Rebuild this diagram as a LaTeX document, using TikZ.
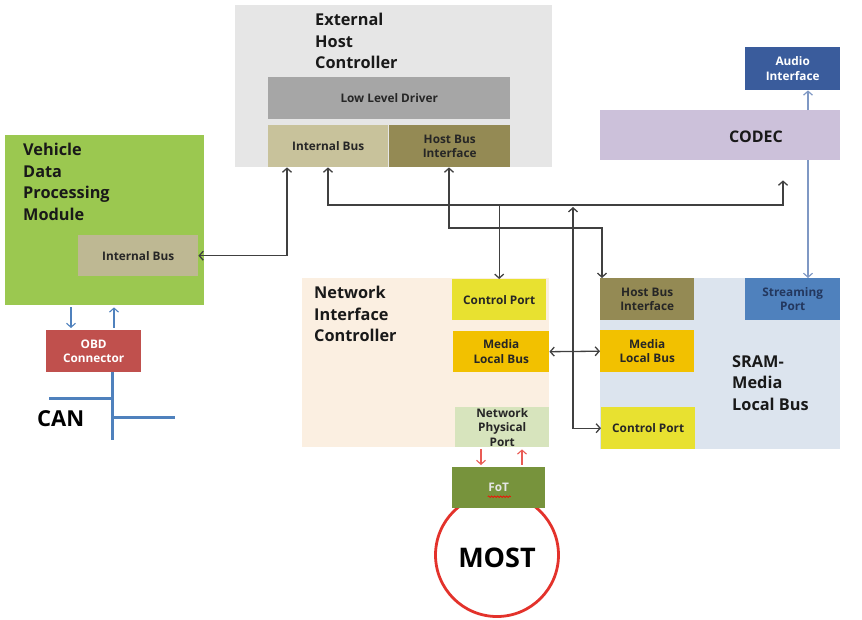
\documentclass[tikz,border=0pt]{standalone}
\usepackage{fontspec}
\setmainfont{Open Sans}
\usetikzlibrary{arrows.meta,decorations.pathmorphing}

\definecolor{hostgray}{HTML}{E6E6E6}
\definecolor{drivergray}{HTML}{A6A6A6}
\definecolor{bustan}{HTML}{C8C29B}
\definecolor{hostolive}{HTML}{948A54}
\definecolor{vehgreen}{HTML}{9BC850}
\definecolor{obdred}{HTML}{C0504D}
\definecolor{audioblue}{HTML}{3A5C9C}
\definecolor{codeclav}{HTML}{CCC1DA}
\definecolor{nicbeige}{HTML}{FBEFE1}
\definecolor{portyellow}{HTML}{E8E130}
\definecolor{mediaorange}{HTML}{F2C100}
\definecolor{phygreen}{HTML}{D7E4BD}
\definecolor{sramblue}{HTML}{DCE4EE}
\definecolor{streamblue}{HTML}{4F81BD}
\definecolor{fotgreen}{HTML}{77933C}
\definecolor{mostred}{HTML}{E3322B}
\definecolor{linkgray}{HTML}{404040}
\definecolor{sigblue}{HTML}{7F98C4}

\tikzset{
	blk/.style={anchor=north west, inner sep=0pt, align=center, text=black!85,
		font=\fontsize{11.8}{14.5}\selectfont\bfseries},
	area/.style={anchor=north west, inner sep=0pt},
	title/.style={anchor=north west, inner sep=0pt, align=left, text=black!90,
		font=\fontsize{16.3}{21.7}\selectfont\bfseries},
	link/.style={draw=linkgray, line width=1.3pt},
	siglink/.style={draw=sigblue, line width=1.2pt},
	obdlink/.style={draw=streamblue, line width=1.1pt, shorten <=2pt, shorten >=2pt},
	fotlink/.style={draw=mostred!80, line width=1.1pt, shorten <=2pt, shorten >=2pt},
	canline/.style={draw=streamblue, line width=3pt}
}

\begin{document}
\begin{tikzpicture}[x=1pt,y=-1pt,>={Straight Barb[length=4pt,width=9pt]}]
	\useasboundingbox (0,0) rectangle (862,619);

	% External host controller
	\node[area,fill=hostgray,minimum width=317pt,minimum height=162pt](ehc) at (235,5) {};
	\node[title](ehctitle) at (315,13) {External\\Host\\Controller};
	\node[blk,fill=drivergray,minimum width=242pt,minimum height=42pt](lld) at (268,77) {Low Level Driver};
	\node[blk,fill=bustan,minimum width=120pt,minimum height=42pt](ibhost) at (268,125) {Internal Bus};
	\node[blk,fill=hostolive,minimum width=121pt,minimum height=42pt](hbihost) at (389,125) {Host Bus\\Interface};

	% Vehicle module and OBD
	\node[area,fill=vehgreen,minimum width=199pt,minimum height=170pt](vdpm) at (5,135) {};
	\node[title](vdpmtitle) at (23,143) {Vehicle\\Data\\Processing\\Module};
	\node[blk,fill=bustan!95!black,minimum width=120pt,minimum height=41pt](ibveh) at (78,235) {Internal Bus};
	\node[blk,fill=obdred,text=white,minimum width=95pt,minimum height=42pt](obd) at (46,330) {OBD\\Connector};
	\node[anchor=north west,inner sep=0pt,font=\fontsize{22}{24}\selectfont\bfseries](can) at (37,410) {CAN};

	% Audio path
	\node[blk,fill=audioblue,text=white,minimum width=95pt,minimum height=43pt](audio) at (745,47) {Audio\\Interface};
	\node[area,fill=codeclav,minimum width=240pt,minimum height=50pt](codec) at (600,110) {};
	\node[font=\fontsize{16}{18}\selectfont\bfseries,text=black!90](codectext) at (756,137) {CODEC};

	% Network interface controller
	\node[area,fill=nicbeige,minimum width=247pt,minimum height=169pt](nic) at (302,278) {};
	\node[title](nictitle) at (314,286) {Network\\Interface\\Controller};
	\node[blk,fill=portyellow,minimum width=94pt,minimum height=41pt](cpnic) at (452,279) {Control Port};
	\node[blk,fill=mediaorange,minimum width=96pt,minimum height=41pt](mlbnic) at (453,331) {Media\\Local Bus};
	\node[blk,fill=phygreen,minimum width=94pt,minimum height=40pt](npp) at (455,407) {Network\\Physical\\Port};

	% SRAM media local bus
	\node[area,fill=sramblue,minimum width=240pt,minimum height=171pt](sram) at (600,278) {};
	\node[title](sramtitle) at (732,355) {SRAM-\\Media\\Local Bus};
	\node[blk,fill=hostolive,minimum width=94pt,minimum height=42pt](hbisram) at (600,278) {Host Bus\\Interface};
	\node[blk,fill=streamblue,text=audioblue!60!black,minimum width=95pt,minimum height=42pt](stream) at (745,278) {Streaming\\Port};
	\node[blk,fill=mediaorange,minimum width=94pt,minimum height=42pt](mlbsram) at (600,330) {Media\\Local Bus};
	\node[blk,fill=portyellow,minimum width=94pt,minimum height=42pt](cpsram) at (601,407) {Control Port};

	% MOST ring
	\draw[mostred,line width=2.8pt] (497,555) circle (61.5);
	\node[blk,fill=fotgreen,text=white!90!black,minimum width=93pt,minimum height=41pt](fot) at (452,467) {FoT};
	\draw[red,line width=0.6pt,decorate,decoration={snake,amplitude=0.8pt,segment length=3pt}]
		([xshift=-11pt,yshift=-9pt]fot.center) -- ([xshift=12pt,yshift=-9pt]fot.center);
	\node[font=\fontsize{27}{30}\selectfont\bfseries](most) at (497,558) {MOST};

	% bus lines
	\coordinate (busa) at (0,205);
	\coordinate (codecx) at (808,0);
	\coordinate (obdin) at (71,0);
	\coordinate (obdout) at (114,0);
	\coordinate (canx) at (112,0);

	\draw[link,<->] (ibveh.east) -| ([xshift=19pt]ibhost.south west);
	\draw[link,<->] ([xshift=60pt]ibhost.south west) |- (783,205) -- ([xshift=183pt,yshift=-20pt]codec.south west);
	\draw[link,->] (cpnic.north |- busa) -- (cpnic.north);
	\draw[link,<->] ([xshift=60pt]hbihost.south west) |- (602,228) -- ([xshift=2pt]hbisram.north west);
	\draw[link,<->] (573,207) |- (cpsram.west);
	\draw[link,<->] (mlbnic.east) -- (mlbsram.west);

	\draw[siglink,->] (codec.north -| codecx) -- (audio.south -| codecx);
	\draw[siglink,->] (codec.south -| codecx) -- (stream.north -| codecx);

	\draw[obdlink,->] (vdpm.south -| obdin) -- (obd.north -| obdin);
	\draw[obdlink,<-] (vdpm.south -| obdout) -- (obd.north -| obdout);

	\draw[fotlink,->] (npp.south -| 481,0) -- (fot.north -| 481,0);
	\draw[fotlink,<-] (npp.south -| 522,0) -- (fot.north -| 522,0);

	\draw[canline] (obd.south -| canx) -- (112,440);
	\draw[canline] (49,398) -- (112,398);
	\draw[canline] (112,417) -- (175,417);
\end{tikzpicture}
\end{document}
